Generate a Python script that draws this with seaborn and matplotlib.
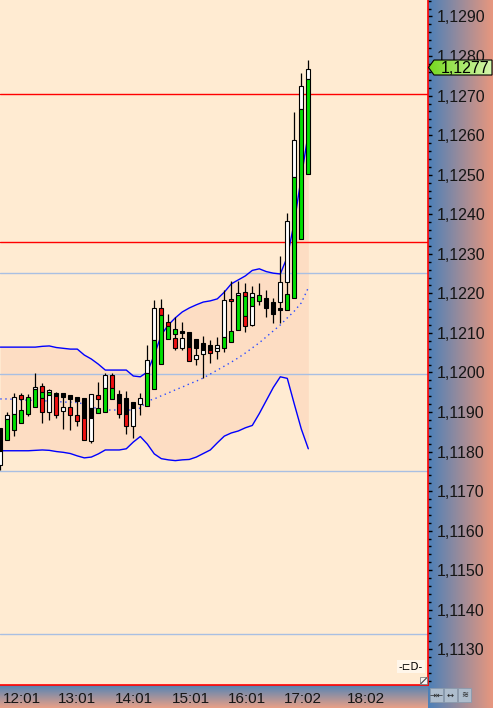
import numpy as np
import pandas as pd
import matplotlib
matplotlib.use("Agg")
import matplotlib.pyplot as plt
import matplotlib.transforms as mtransforms
from matplotlib.patches import Polygon, Rectangle
from matplotlib.ticker import MultipleLocator
import seaborn as sns

# ---------------- data ----------------
candle_idx = np.arange(45)
high = [1.11860, 1.11901, 1.11947, 1.11949, 1.11946, 1.11998, 1.11973, 1.11958, 1.11951, 1.11947,
        1.11943, 1.11937, 1.11935, 1.11946, 1.11977, 1.11998, 1.11999, 1.11956, 1.11953, 1.11924,
        1.11947, 1.12070, 1.12183, 1.12185, 1.12147, 1.12139, 1.12128, 1.12102, 1.12084, 1.12092,
        1.12082, 1.12090, 1.12209, 1.12230, 1.12230, 1.12227, 1.12219, 1.12227, 1.12209, 1.12188,
        1.12294, 1.12402, 1.12659, 1.12758, 1.12790]
low = [1.11753, 1.11829, 1.11840, 1.11873, 1.11890, 1.11913, 1.11871, 1.11880, 1.11885, 1.11857,
       1.11855, 1.11865, 1.11829, 1.11822, 1.11897, 1.11901, 1.11932, 1.11885, 1.11844, 1.11834,
       1.11892, 1.11914, 1.11957, 1.12021, 1.12084, 1.12057, 1.12057, 1.12030, 1.12019, 1.11985,
       1.12023, 1.12034, 1.12052, 1.12076, 1.12107, 1.12103, 1.12118, 1.12171, 1.12139, 1.12124,
       1.12124, 1.12158, 1.12188, 1.12337, 1.12502]

# candle body segments: candle index, top, bottom, colour code
seg_idx = [0, 0, 1, 1, 2, 2, 3, 3, 4, 5, 5, 6, 6, 6, 7, 7, 7, 8, 8, 9, 9, 10, 10, 11, 11,
           12, 12, 13, 13, 13, 14, 14, 15, 15, 16, 16, 17, 17, 18, 18, 19, 19, 20, 21, 21,
           22, 22, 23, 23, 24, 24, 25, 25, 26, 26, 27, 27, 28, 28, 29, 29, 30, 30, 31, 31,
           32, 32, 33, 33, 34, 34, 35, 35, 35, 36, 36, 36, 37, 38, 39, 40, 40, 41, 41,
           42, 42, 43, 43, 44, 44]
seg_top = [1.11860, 1.11802, 1.11892, 1.11882, 1.11937, 1.11895, 1.11943, 1.11904, 1.11939,
           1.11964, 1.11957, 1.11966, 1.11951, 1.11936, 1.11956, 1.11950, 1.11943, 1.11949, 1.11941,
           1.11947, 1.11912, 1.11943, 1.11913, 1.11937, 1.11892, 1.11935, 1.11884, 1.11946, 1.11910,
           1.11884, 1.11943, 1.11909, 1.11994, 1.11960, 1.11994, 1.11960, 1.11946, 1.11923, 1.11935,
           1.11895, 1.11924, 1.11909, 1.11935, 1.12032, 1.11998, 1.12162, 1.12082, 1.12162, 1.12145,
           1.12128, 1.12118, 1.12109, 1.12086, 1.12105, 1.12086, 1.12102, 1.12065, 1.12084, 1.12043,
           1.12074, 1.12057, 1.12069, 1.12057, 1.12069, 1.12062, 1.12183, 1.12090, 1.12186, 1.12106,
           1.12202, 1.12196, 1.12203, 1.12193, 1.12142, 1.12200, 1.12192, 1.12167, 1.12196, 1.12188,
           1.12178, 1.12228, 1.12164, 1.12383, 1.12198, 1.12588, 1.12493, 1.12724, 1.12665, 1.12767,
           1.12741]
seg_bot = [1.11802, 1.11766, 1.11882, 1.11829, 1.11895, 1.11855, 1.11932, 1.11873, 1.11895,
           1.11957, 1.11913, 1.11951, 1.11936, 1.11899, 1.11950, 1.11943, 1.11899, 1.11941, 1.11892,
           1.11939, 1.11902, 1.11934, 1.11892, 1.11929, 1.11878, 1.11884, 1.11829, 1.11910, 1.11884,
           1.11827, 1.11932, 1.11897, 1.11960, 1.11901, 1.11960, 1.11932, 1.11923, 1.11894, 1.11895,
           1.11865, 1.11909, 1.11864, 1.11920, 1.11998, 1.11914, 1.12082, 1.11957, 1.12145, 1.12021,
           1.12118, 1.12084, 1.12098, 1.12063, 1.12099, 1.12063, 1.12065, 1.12030, 1.12063, 1.12033,
           1.12057, 1.12046, 1.12057, 1.12048, 1.12062, 1.12054, 1.12090, 1.12061, 1.12181, 1.12076,
           1.12196, 1.12107, 1.12193, 1.12142, 1.12118, 1.12192, 1.12167, 1.12119, 1.12180, 1.12162,
           1.12149, 1.12177, 1.12159, 1.12228, 1.12159, 1.12493, 1.12188, 1.12665, 1.12337, 1.12741,
           1.12502]
seg_col = ["K", "W", "W", "G", "W", "G", "R", "G", "G", "W", "G", "R", "G", "R", "W", "G", "W",
           "K", "R", "K", "W", "K", "R", "K", "R", "K", "R", "W", "K", "W", "R", "G", "W", "G",
           "R", "G", "K", "R", "K", "R", "K", "W", "W", "W", "G", "W", "G", "R", "G", "R", "G",
           "G", "R", "K", "W", "K", "R", "K", "W", "K", "W", "K", "R", "W", "W", "W", "G", "R",
           "G", "W", "G", "R", "G", "R", "W", "G", "W", "G", "K", "K", "W", "K", "W", "G", "W",
           "G", "W", "G", "W", "G"]

upper_band = [1.12064, 1.12064, 1.12064, 1.12064, 1.12064, 1.12064, 1.12066, 1.12067, 1.12063, 1.12061,
              1.12059, 1.12059, 1.12044, 1.12034, 1.12021, 1.12006, 1.12006, 1.12006, 1.12006, 1.11991,
              1.11989, 1.12001, 1.12044, 1.12095, 1.12120, 1.12138, 1.12153, 1.12163, 1.12171, 1.12178,
              1.12181, 1.12186, 1.12203, 1.12224, 1.12234, 1.12244, 1.12258, 1.12262, 1.12255, 1.12251,
              1.12249, 1.12292, 1.12380, 1.12494, 1.12605]
lower_band = [1.11802, 1.11802, 1.11802, 1.11802, 1.11802, 1.11803, 1.11804, 1.11803, 1.11800, 1.11798,
              1.11795, 1.11789, 1.11784, 1.11786, 1.11794, 1.11804, 1.11804, 1.11804, 1.11807, 1.11824,
              1.11838, 1.11819, 1.11794, 1.11782, 1.11779, 1.11777, 1.11779, 1.11780, 1.11786, 1.11795,
              1.11804, 1.11822, 1.11839, 1.11847, 1.11852, 1.11860, 1.11866, 1.11896, 1.11929, 1.11962,
              1.11989, 1.11985, 1.11920, 1.11857, 1.11807]
mid_band = [1.11933, 1.11933, 1.11932, 1.11930, 1.11930, 1.11929, 1.11928, 1.11928, 1.11927, 1.11925,
            1.11925, 1.11924, 1.11920, 1.11913, 1.11908, 1.11905, 1.11905, 1.11905, 1.11905, 1.11905,
            1.11910, 1.11928, 1.11933, 1.11941, 1.11948, 1.11956, 1.11963, 1.11971, 1.11978, 1.11986,
            1.11996, 1.12006, 1.12016, 1.12026, 1.12037, 1.12049, 1.12062, 1.12075, 1.12090, 1.12105,
            1.12120, 1.12138, 1.12155, 1.12176, 1.12214]

red_levels = [1.12703, 1.12330]
blue_levels = [1.12251, 1.11995, 1.11751, 1.11339]
last_price = 1.12771
last_price_label = "1,1277"
ytick_vals = [1.1130, 1.1140, 1.1150, 1.1160, 1.1170, 1.1180, 1.1190, 1.1200, 1.1210,
              1.1220, 1.1230, 1.1240, 1.1250, 1.1260, 1.1270, 1.1280, 1.1290]
xtick_pos = [0.2, 8.06, 16.14, 24.24, 32.34, 40.34, 49.24]
xtick_labels = ["12:01", "13:01", "14:01", "15:01", "16:01", "17:02", "18:02"]

# ---------------- style ----------------
sns.set_style("white")
plt.rcParams["font.family"] = ["Liberation Sans", "DejaVu Sans"]

W, H = 493, 708
PLOT_W, PLOT_H, BOT = 428, 685, 23
fig = plt.figure(figsize=(W / 100, H / 100), dpi=100)

# background gradient panels (pixel coordinates)
bg = fig.add_axes([0, 0, 1, 1], zorder=0)
blue_c = np.array([0x4C, 0x80, 0xB8]) / 255
salm_c = np.array([0xE8, 0x97, 0x7E]) / 255
g = np.linspace(0, 1, 256)
img_h = blue_c[None, None, :] * (1 - g)[None, :, None] + salm_c[None, None, :] * g[None, :, None]
bg.imshow(img_h, extent=(PLOT_W, W, H, 0), aspect="auto", interpolation="bilinear")
blue_b = np.array([0x52, 0x84, 0xB6]) / 255
salm_b = np.array([0xEA, 0xA0, 0x86]) / 255
img_v = blue_b[None, None, :] * (1 - g)[:, None, None] + salm_b[None, None, :] * g[:, None, None]
bg.imshow(img_v, extent=(0, PLOT_W, H, PLOT_H), aspect="auto", interpolation="bilinear")
bg.set_xlim(0, W)
bg.set_ylim(H, 0)
bg.axis("off")

# main chart
ax = fig.add_axes([0, BOT / H, PLOT_W / W, PLOT_H / H], zorder=1)
ax.set_facecolor("#FFEBD2")
ax.set_xlim(-0.3 / 7, (PLOT_W - 0.3) / 7)
ax.set_ylim(1.112097, 1.129417)

df = pd.DataFrame({"k": candle_idx, "upper": upper_band, "lower": lower_band, "mid": mid_band})
ax.fill_between(df["k"], df["lower"], df["upper"], color="#FDDDC3", lw=0, zorder=0.5)

for v in blue_levels:
    ax.axhline(v, color="#A9BFE2", lw=1.0, zorder=1.0)
for v in red_levels:
    ax.axhline(v, color="#FF0000", lw=1.0, zorder=1.1)

sns.lineplot(data=df, x="k", y="upper", ax=ax, color="#0000FF", lw=1.0, zorder=1.5)
sns.lineplot(data=df, x="k", y="lower", ax=ax, color="#0000FF", lw=1.0, zorder=1.5)
sns.lineplot(data=df, x="k", y="mid", ax=ax, color="#2A4BFF", lw=1.0,
             linestyle=(0, (1, 2.6)), zorder=1.6)

ax.vlines(candle_idx, low, high, color="black", lw=0.9, zorder=2)
colmap = {"W": "#FFFFFF", "G": "#00E000", "R": "#EE1111", "K": "#000000"}
seg_top_a = np.array(seg_top)
seg_bot_a = np.array(seg_bot)
ax.bar(seg_idx, seg_top_a - seg_bot_a, bottom=seg_bot_a, width=0.6,
       color=[colmap[c] for c in seg_col], edgecolor="black", linewidth=0.8, zorder=3)

ax.set_xlabel("")
ax.set_ylabel("")
ax.grid(False)
for s in ["top", "left"]:
    ax.spines[s].set_visible(False)
for s in ["right", "bottom"]:
    ax.spines[s].set_visible(True)
    ax.spines[s].set_color("#FF0000")
    ax.spines[s].set_linewidth(1.2)

ax.yaxis.tick_right()
ax.set_yticks(ytick_vals)
ax.set_yticklabels([f"{v:.4f}".replace(".", ",") for v in ytick_vals])
ax.yaxis.set_minor_locator(MultipleLocator(0.0002))
ax.tick_params(axis="y", which="major", direction="out", length=3, width=1,
               color="black", pad=3, labelsize=11.5, labelcolor="#151515")
ax.tick_params(axis="y", which="minor", direction="out", length=2, width=1, color="black")

ax.set_xticks(xtick_pos)
ax.set_xticklabels(xtick_labels)
ax.tick_params(axis="x", which="major", direction="out", length=3, width=1,
               color="black", pad=2.2, labelsize=11, labelcolor="#151515")
offset = mtransforms.ScaledTranslation(1.6 / 100, 0, fig.dpi_scale_trans)
for lab in ax.get_xticklabels():
    lab.set_horizontalalignment("left")
    lab.set_transform(lab.get_transform() + offset)

# foreground decorations (pixel coordinates)
fg = fig.add_axes([0, 0, 1, 1], zorder=3)
fg.patch.set_visible(False)
my = H - ax.transData.transform((0, last_price))[1]
pts = [(428.5, my), (434, my - 7.5), (492, my - 7.5), (492, my + 7.5), (434, my + 7.5)]
poly = Polygon(pts, closed=True, fc="none", ec="black", lw=0.8, zorder=5)
fg.add_patch(poly)
gl = np.array([0x74, 0xD8, 0x1C]) / 255
gr = np.array([0xD6, 0xF6, 0xAE]) / 255
img_g = gl[None, None, :] * (1 - g)[None, :, None] + gr[None, None, :] * g[None, :, None]
im = fg.imshow(img_g, extent=(428, 492, my + 7.5, my - 7.5), aspect="auto", zorder=4)
im.set_clip_path(poly)
fg.text(441, my + 0.5, last_price_label, ha="left", va="center", fontsize=11.5, color="black", zorder=6)

# small chart icon and resize grip
fg.text(411, 666.5, "-⊏D-", ha="center", va="center", fontsize=7.5, color="black",
        family="DejaVu Sans", bbox=dict(boxstyle="square,pad=0.15", fc="#FFF6EA", ec="none"))
fg.add_patch(Rectangle((420, 677), 7, 7, fc="#F4F4F4", ec="#808080", lw=0.6))
fg.plot([421, 426.5], [683.5, 678], color="#404040", lw=0.8)

# corner buttons
for i, sym in enumerate(["⇥⇤", "↔", "≋"]):
    x0 = 430 + i * 14
    fg.add_patch(Rectangle((x0, 688), 13, 14, fc="#AEBDCD", ec="#8A9AAC", lw=0.6))
    fg.text(x0 + 6.5, 695, sym, ha="center", va="center", fontsize=6, family="DejaVu Sans",
            color="#202020")

fg.set_xlim(0, W)
fg.set_ylim(H, 0)
fg.axis("off")

fig.savefig("out.png", dpi=100)
